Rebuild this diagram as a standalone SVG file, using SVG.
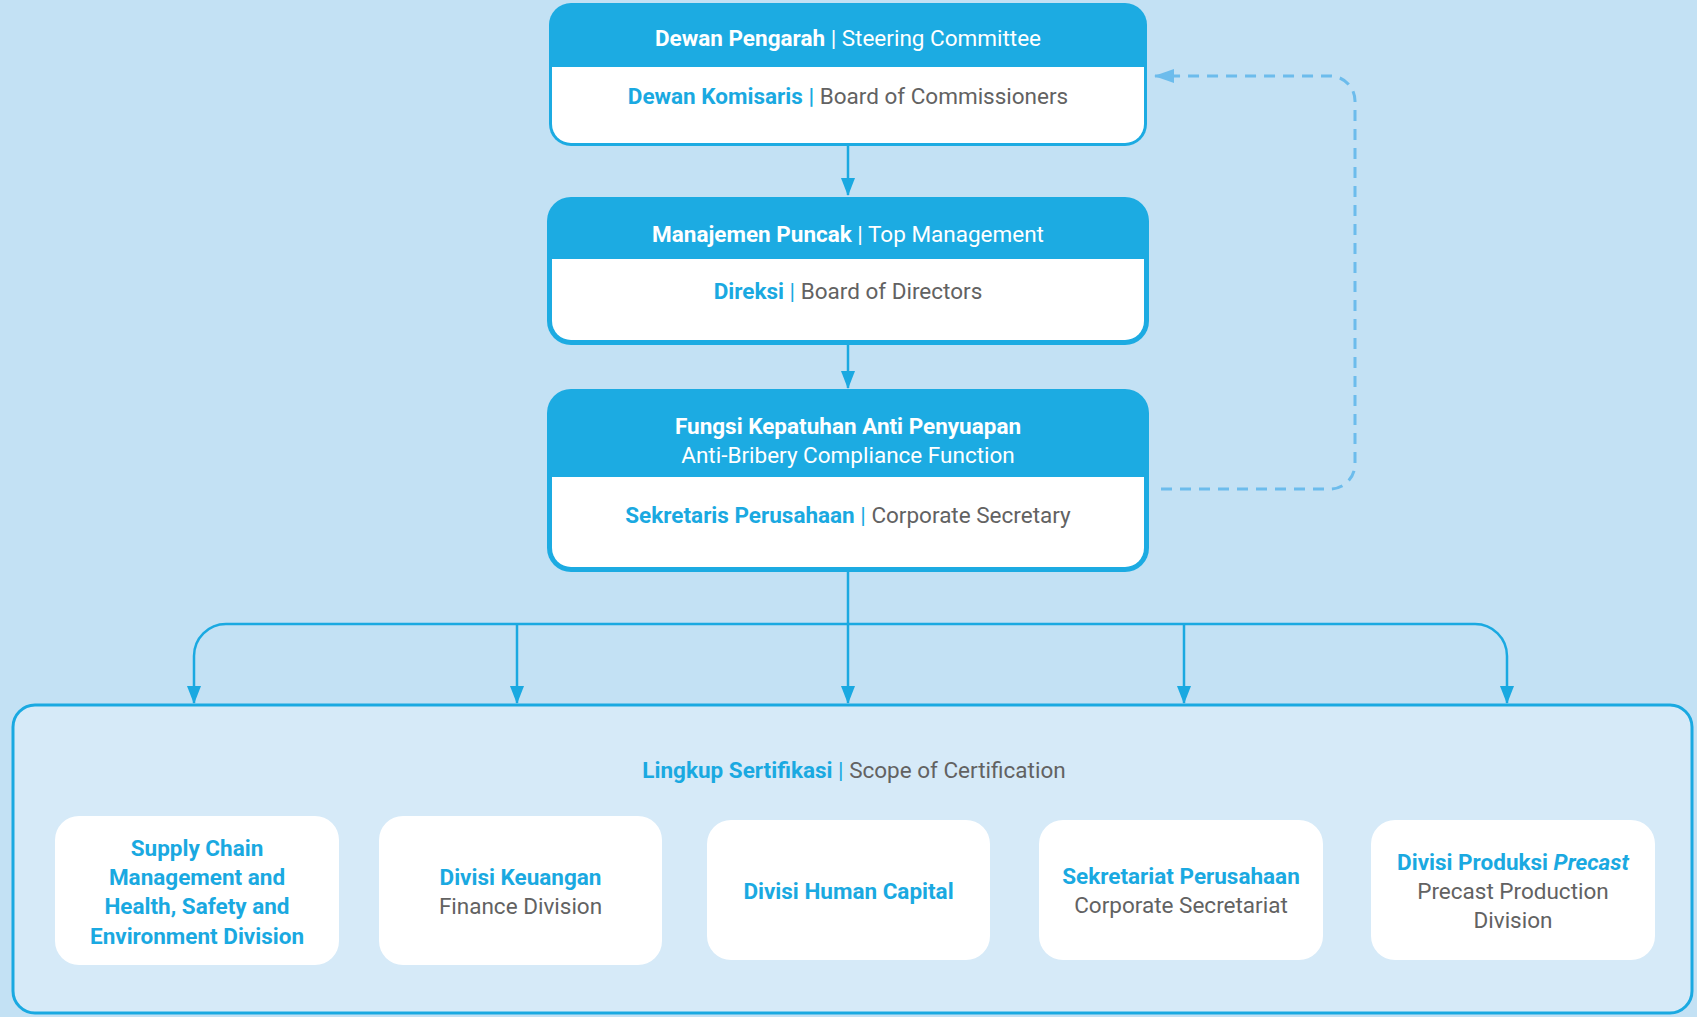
<svg xmlns="http://www.w3.org/2000/svg" width="1697" height="1017" viewBox="0 0 1697 1017">
<style>
text{font-family:Roboto,"Liberation Sans",sans-serif;font-size:22.5px;text-anchor:middle}
.b{font-weight:700}
.w{fill:#ffffff}
.bl{fill:#1aa9e1}
.g{fill:#626262}
.hd{fill:#1cabe2}
.con{fill:none;stroke:#1aa9e1;stroke-width:2.5}
.dash{fill:none;stroke:#6cbcec;stroke-width:3;stroke-dasharray:11 8}
.inner{fill:#ffffff}
</style>
<defs>
<marker id="ah" markerUnits="userSpaceOnUse" markerWidth="14" markerHeight="18" refX="7" refY="17" orient="0" viewBox="0 0 14 18">
<path d="M0 0 L14 0 L7 18 Z" fill="#1aa9e1"/>
</marker>
<marker id="ahl" markerUnits="userSpaceOnUse" markerWidth="20" markerHeight="14" refX="1" refY="7" orient="0" viewBox="0 0 20 14">
<path d="M0 7 L20 0 L20 14 Z" fill="#6cbcec"/>
</marker>
</defs>
<rect x="0" y="0" width="1697" height="1017" fill="#c3e1f4"/>

<g id="scope">
<rect x="13" y="705" width="1679" height="308" rx="22" fill="#d6eaf8" stroke="#1aa9e1" stroke-width="3"/>
<text x="854" y="778"><tspan class="b bl">Lingkup Sertifikasi</tspan><tspan class="bl"> | </tspan><tspan class="g">Scope of Certification</tspan></text>
</g>

<g id="connectors">
<path class="con" d="M848 146 V195" marker-end="url(#ah)"/>
<path class="con" d="M848 345 V388" marker-end="url(#ah)"/>
<path class="con" d="M848 572 V703" marker-end="url(#ah)"/>
<path class="con" d="M194 703 V656 A32 32 0 0 1 226 624 H1475 A32 32 0 0 1 1507 656 V703" marker-start="url(#ah)" marker-end="url(#ah)"/>
<path class="con" d="M517 624 V703" marker-end="url(#ah)"/>
<path class="con" d="M1184 624 V703" marker-end="url(#ah)"/>
<path class="dash" d="M1161 489 H1330 A25 25 0 0 0 1355 464 V101 A25 25 0 0 0 1330 76 H1155" marker-end="url(#ahl)"/>
</g>

<g id="steering">
<rect x="549" y="3" width="598" height="143" rx="22" class="hd"/>
<path d="M552 67 H1144 V124 A19 19 0 0 1 1125 143 H571 A19 19 0 0 1 552 124 Z" fill="#ffffff"/>
<text x="848" y="46"><tspan class="b w">Dewan Pengarah</tspan><tspan class="w"> | Steering Committee</tspan></text>
<text x="848" y="104"><tspan class="b bl">Dewan Komisaris |</tspan><tspan class="g"> Board of Commissioners</tspan></text>
</g>

<g id="top-management">
<rect x="547" y="197" width="602" height="148" rx="24" class="hd"/>
<path d="M552 259 H1144 V321 A19 19 0 0 1 1125 340 H571 A19 19 0 0 1 552 321 Z" fill="#ffffff"/>
<text x="848" y="242"><tspan class="b w">Manajemen Puncak</tspan><tspan class="w"> | Top Management</tspan></text>
<text x="848" y="299"><tspan class="b bl">Direksi</tspan><tspan class="bl"> | </tspan><tspan class="g">Board of Directors</tspan></text>
</g>

<g id="compliance">
<rect x="547" y="389" width="602" height="183" rx="24" class="hd"/>
<path d="M552 477 H1144 V548 A19 19 0 0 1 1125 567 H571 A19 19 0 0 1 552 548 Z" fill="#ffffff"/>
<text x="848" y="434" class="b w">Fungsi Kepatuhan Anti Penyuapan</text>
<text x="848" y="463" class="w">Anti-Bribery Compliance Function</text>
<text x="848" y="523"><tspan class="b bl">Sekretaris Perusahaan</tspan><tspan class="bl"> | </tspan><tspan class="g">Corporate Secretary</tspan></text>
</g>

<g id="scm-hse">
<rect x="55" y="816" width="284" height="149" rx="24" class="inner"/>
<text x="197" y="856" class="b bl">Supply Chain</text>
<text x="197" y="885" class="b bl">Management and</text>
<text x="197" y="914" class="b bl">Health, Safety and</text>
<text x="197" y="944" class="b bl">Environment Division</text>
</g>

<g id="finance">
<rect x="379" y="816" width="283" height="149" rx="24" class="inner"/>
<text x="520.5" y="885" class="b bl">Divisi Keuangan</text>
<text x="520.5" y="914" class="g">Finance Division</text>
</g>

<g id="human-capital">
<rect x="707" y="820" width="283" height="140" rx="24" class="inner"/>
<text x="848.5" y="899" class="b bl">Divisi Human Capital</text>
</g>

<g id="corp-secretariat">
<rect x="1039" y="820" width="284" height="140" rx="24" class="inner"/>
<text x="1181" y="884" class="b bl">Sekretariat Perusahaan</text>
<text x="1181" y="913" class="g">Corporate Secretariat</text>
</g>

<g id="precast">
<rect x="1371" y="820" width="284" height="140" rx="24" class="inner"/>
<text x="1513" y="870" class="b bl">Divisi Produksi <tspan font-style="italic">Precast</tspan></text>
<text x="1513" y="899" class="g">Precast Production</text>
<text x="1513" y="928" class="g">Division</text>
</g>
</svg>
